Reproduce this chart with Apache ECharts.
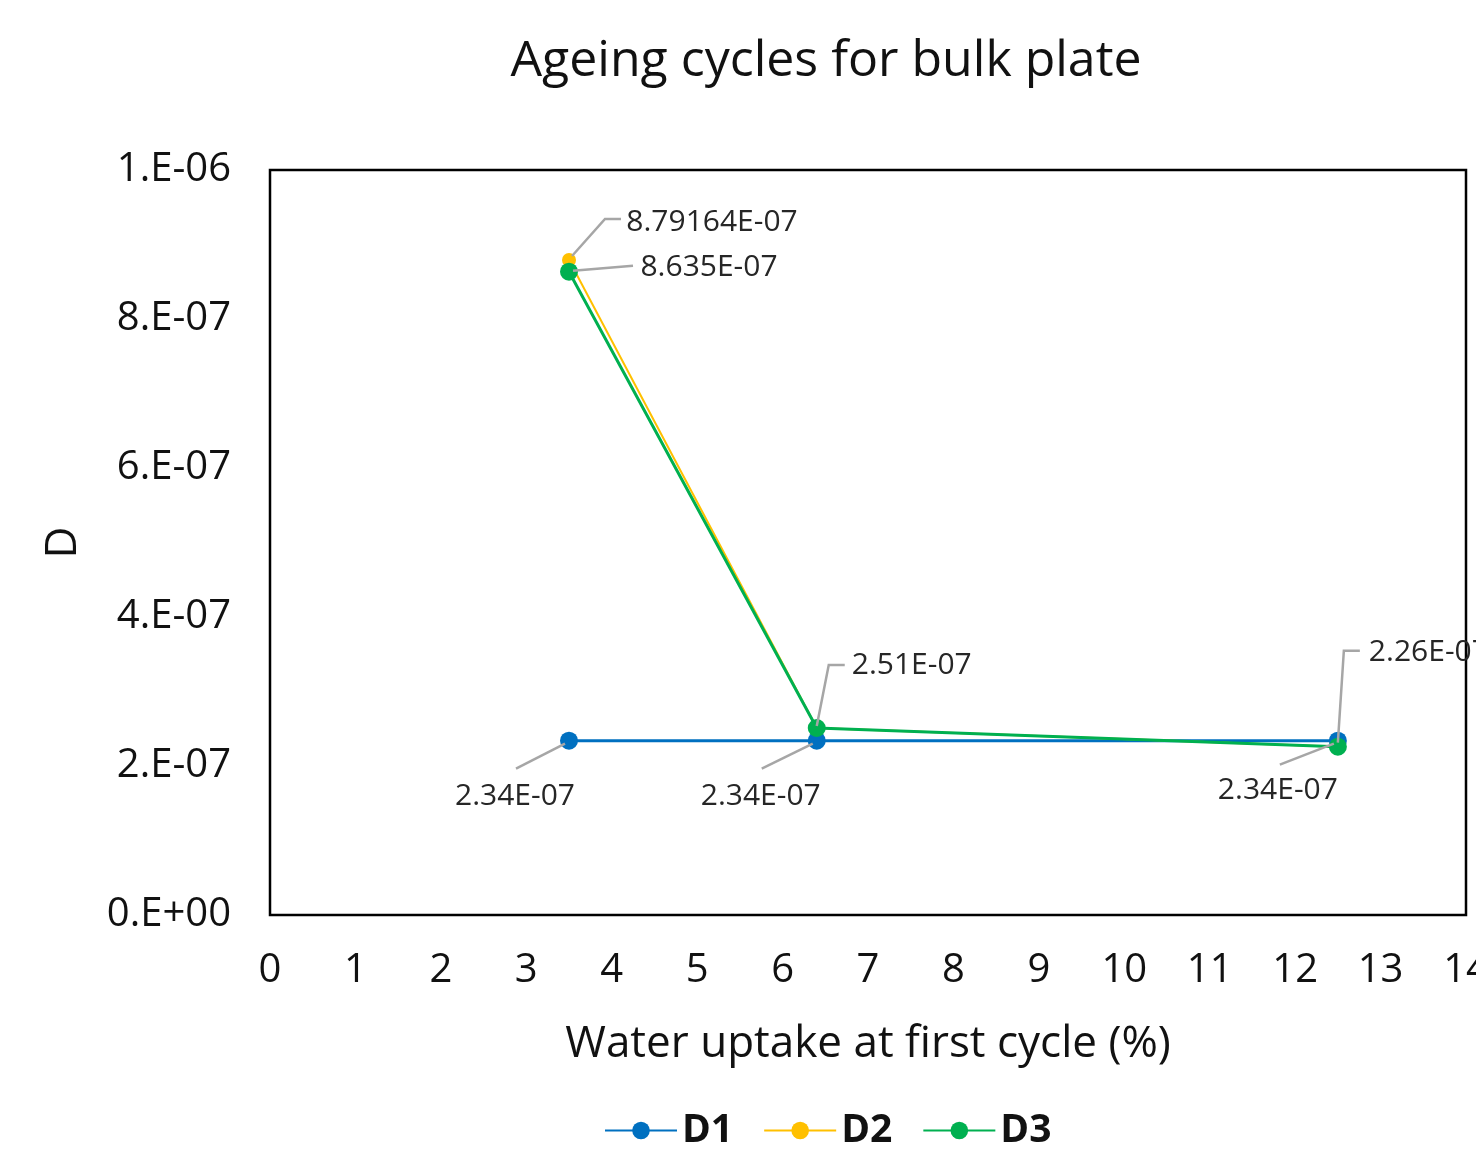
<!DOCTYPE html>
<html>
<head>
<meta charset="utf-8">
<script src="https://cdn.jsdelivr.net/npm/echarts@6/dist/echarts.min.js"></script>
<style>
  html, body { margin: 0; padding: 0; background: #fff; }
  #chart { width: 1476px; height: 1161px; }
</style>
</head>
<body>
<div id="chart"></div>
<script>
// water uptake at first cycle (%)
const xValues = [3.5, 6.4, 12.5];
const d1Values = [2.34e-7, 2.34e-7, 2.34e-7];
const d2Values = [8.79164e-7, 2.51e-7, 2.26e-7];
const d3Values = [8.635e-7, 2.51e-7, 2.26e-7];
const seriesNames = ['D1', 'D2', 'D3'];
const yTickLabels = ['0.E+00', '2.E-07', '4.E-07', '6.E-07', '8.E-07', '1.E-06'];
// which points carry a data label (like the excel chart)
const labelShown = [[true, true, true], [true, false, false], [true, true, true]];

// label centre offsets from the point, px
const labelOffsets = [
  [[-54, 56], [-56, 56], [-60, 50]],
  [[143, -38], [0, 0], [0, 0]],
  [[140, -4], [95, -63], [91, -94]]
];
// callout leader lines, offsets from the point, px
const leaderPaths = [
  [[[-4, 3], [-53, 28]], [[-4, 3], [-55, 28]], [[-4, 3], [-58, 24]]],
  [[[3, -4], [36, -41], [52, -41]], [], []],
  [[[4, -1], [64, -6]], [[0, -2], [12, -63], [28, -63]], [[0, -4], [6, -96], [22, -96]]]
];

const colors = ['#0070C0', '#FFC000', '#00B050'];
const font = '"Open Sans", sans-serif';
const allValues = [d1Values, d2Values, d3Values];

// excel style 8.79164E-07
function excelExp(v) {
  const parts = v.toExponential().split('e');
  const n = parseInt(parts[1], 10);
  return parts[0] + 'E' + (n < 0 ? '-' : '+') + String(Math.abs(n)).padStart(2, '0');
}

function makeSeries(idx, lineW, symSize) {
  const values = allValues[idx];
  return {
    name: seriesNames[idx],
    type: 'line',
    data: xValues.map(function (x, i) {
      return {
        value: [x, values[i]],
        label: { show: labelShown[idx][i], offset: labelOffsets[idx][i] }
      };
    }),
    symbol: 'circle',
    symbolSize: symSize,
    lineStyle: { color: colors[idx], width: lineW },
    itemStyle: { color: colors[idx] },
    label: {
      position: 'inside',
      fontFamily: font,
      fontSize: 30,
      color: '#262626',
      formatter: function (p) { return excelExp(p.value[1]); }
    },
    emphasis: { disabled: true },
    z: 2 + idx
  };
}

// points that have a callout -> [x, y, series, point]
const leaderData = [];
allValues.forEach(function (vals, s) {
  xValues.forEach(function (x, i) {
    if (labelShown[s][i]) leaderData.push([x, vals[i], s, i]);
  });
});

const chart = echarts.init(document.getElementById('chart'));
chart.setOption({
  animation: false,
  title: {
    text: 'Ageing cycles for bulk plate',
    left: 821,
    textAlign: 'center',
    top: 32,
    textStyle: { fontFamily: font, fontSize: 50, fontWeight: 'normal', color: '#111' }
  },
  legend: {
    top: 1106,
    left: 599,
    itemWidth: 72,
    itemHeight: 22,
    itemGap: 30,
    data: seriesNames,
    textStyle: { fontFamily: font, fontSize: 39, fontWeight: 'bold', color: '#111' }
  },
  grid: {
    left: 270,
    right: 10,
    top: 170,
    bottom: 246,
    outerBoundsMode: 'none',
    show: true,
    borderColor: '#000',
    borderWidth: 2.5,
    backgroundColor: '#fff'
  },
  xAxis: {
    type: 'value',
    min: 0,
    max: 14,
    interval: 1,
    name: 'Water uptake at first cycle (%)',
    nameLocation: 'middle',
    nameGap: 107,
    nameTextStyle: { fontFamily: font, fontSize: 44, color: '#111' },
    axisLine: { show: false },
    axisTick: { show: false },
    splitLine: { show: false },
    axisLabel: { fontFamily: font, fontSize: 40, color: '#111', margin: 36 }
  },
  yAxis: {
    type: 'value',
    min: 0,
    max: 1e-6,
    interval: 2e-7,
    name: 'D',
    nameLocation: 'middle',
    nameGap: 185,
    nameTextStyle: { fontFamily: font, fontSize: 44, color: '#111' },
    axisLine: { show: false },
    axisTick: { show: false },
    splitLine: { show: false },
    axisLabel: {
      fontFamily: font, fontSize: 40, color: '#111', margin: 39,
      formatter: function (v, i) { return yTickLabels[i]; }
    }
  },
  series: [
    makeSeries(0, 3, 18),
    makeSeries(1, 2, 14),
    makeSeries(2, 3, 18),
    {
      type: 'custom',
      data: leaderData,
      encode: { x: 0, y: 1 },
      silent: true,
      z: 10,
      renderItem: function (params, api) {
        const p = api.coord([api.value(0), api.value(1)]);
        const path = leaderPaths[api.value(2)][api.value(3)];
        return {
          type: 'polyline',
          shape: { points: path.map(function (o) { return [p[0] + o[0], p[1] + o[1]]; }) },
          style: { stroke: '#A6A6A6', lineWidth: 2.5, fill: null }
        };
      }
    }
  ]
});
</script>
</body>
</html>
